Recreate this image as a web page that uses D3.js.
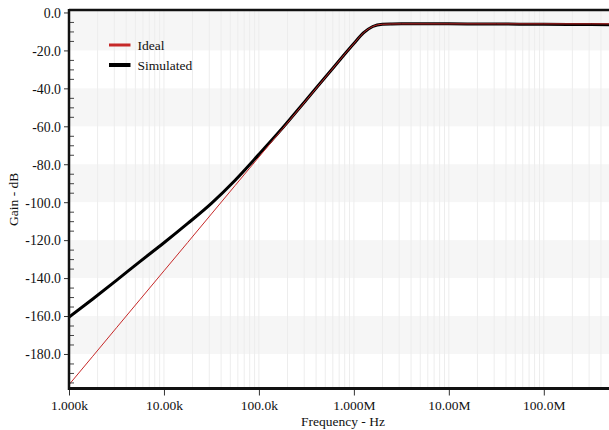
<!DOCTYPE html>
<html>
<head>
<meta charset="utf-8">
<script src="https://cdn.jsdelivr.net/npm/d3@7"></script>
<style>
  html, body { margin: 0; padding: 0; background: #ffffff; }
  svg { display: block; }
  text { font-family: "Liberation Serif", "Times New Roman", serif; fill: #111; }
</style>
</head>
<body>
<svg id="chart" width="609" height="430"></svg>
<script>
// ---- data ----
const freqHz = [1e3, 1.78e3, 3.16e3, 5.62e3, 1e4, 1.78e4, 3.16e4, 5.62e4, 1e5, 1.78e5, 3.16e5,
  5.62e5, 7.94e5, 1e6, 1.26e6, 1.58e6, 2e6, 2.51e6, 3.16e6, 1e7, 3.16e7, 1e8, 3.16e8, 1e9];
const idealDb = [-196.2, -181.2, -166.2, -151.2, -136.2, -121.2, -106.2, -91.2, -76.2, -61.2, -46.2,
  -31.2, -22.2, -16.4, -10.8, -7.4, -6.2, -6.05, -6.0, -6.0, -6.0, -6.0, -6.0, -6.0];
const simulatedDb = [-160.6, -151.0, -141.2, -131.2, -121.4, -111.2, -100.6, -88.4, -74.8, -60.8, -46.0,
  -31.1, -22.2, -16.4, -10.8, -7.4, -6.2, -6.05, -6.0, -6.0, -6.1, -6.25, -6.4, -6.55];
const yMajorTicks = [0, -20, -40, -60, -80, -100, -120, -140, -160, -180];
const xTickValues = [1e3, 1e4, 1e5, 1e6, 1e7, 1e8];
const xTickLabels = ["1.000k", "10.00k", "100.0k", "1.000M", "10.00M", "100.0M"];
const seriesNames = ["Ideal", "Simulated"];
const seriesColors = ["#c62828", "#000000"];

// ---- layout ----
const svg = d3.select("#chart");
const L = 69, R = 617, T = 10, B = 388.5;

const x = d3.scaleLog().domain([1e3, 5.9e8]).range([L, R]);
const y = d3.scaleLinear().domain([1.3, -198.2]).range([T, B]);

const g = svg.append("g");

// horizontal bands
const bands = yMajorTicks.filter((d, i) => i % 2 === 0);
g.selectAll("rect.band").data(bands).enter().append("rect")
  .attr("x", L).attr("width", R - L)
  .attr("y", d => d === 0 ? T : y(d))
  .attr("height", d => y(d - 20) - (d === 0 ? T : y(d)))
  .attr("fill", "#f6f6f6");

// vertical grid lines (1..9 per decade)
const gridVals = [];
for (let e = 3; e <= 8; e++) for (let m = 1; m <= 9; m++) {
  const v = m * Math.pow(10, e);
  if (v >= 1e3 && v <= 5.9e8) gridVals.push(v);
}
g.selectAll("line.vgrid").data(gridVals).enter().append("line")
  .attr("x1", d => x(d)).attr("x2", d => x(d))
  .attr("y1", T).attr("y2", B)
  .attr("stroke", "#ededed").attr("stroke-width", 1);

// curves
const line = d3.line().x(d => x(d[0])).y(d => y(d[1])).curve(d3.curveMonotoneX);
svg.append("clipPath").attr("id", "plotclip")
  .append("rect").attr("x", L).attr("y", T).attr("width", R - L).attr("height", B - T);

g.append("path").datum(freqHz.map((f, i) => [f, simulatedDb[i]]))
  .attr("d", line).attr("fill", "none")
  .attr("stroke", seriesColors[1]).attr("stroke-width", 3)
  .attr("clip-path", "url(#plotclip)");
g.append("path").datum(freqHz.map((f, i) => [f, idealDb[i]]))
  .attr("d", line).attr("fill", "none")
  .attr("stroke", seriesColors[0]).attr("stroke-width", 1)
  .attr("clip-path", "url(#plotclip)");

// y axis: major ticks outside, minor ticks inside
const yAxis = d3.axisLeft(y).tickValues(yMajorTicks).tickSize(5).tickPadding(3)
  .tickFormat(d => d3.format(".1f")(d).replace("−", "-"));
const ya = svg.append("g").attr("transform", `translate(${L},0)`).call(yAxis);
ya.select(".domain").remove();
ya.selectAll("text").style("font-size", "13.8px").attr("dy", "0.35em");
ya.selectAll("line").attr("stroke", "#333");

const minorY = d3.range(0, -200, -5).filter(v => v % 20 !== 0);
const yMinor = d3.axisRight(y).tickValues(minorY).tickSize(5).tickFormat("");
const ym = svg.append("g").attr("transform", `translate(${L},0)`).call(yMinor);
ym.select(".domain").remove();
ym.selectAll("line").attr("stroke", "#444");

// x axis
const xAxis = d3.axisBottom(x).tickValues(xTickValues).tickSize(7).tickPadding(5)
  .tickFormat((d, i) => xTickLabels[i]);
const xa = svg.append("g").attr("transform", `translate(0,${B})`).call(xAxis);
xa.select(".domain").remove();
xa.selectAll("text").style("font-size", "13.5px");
xa.selectAll("line").attr("stroke", "#333");

// frame lines
svg.append("line").attr("x1", L).attr("x2", R).attr("y1", T).attr("y2", T)
  .attr("stroke", "#111").attr("stroke-width", 2.5);
svg.append("line").attr("x1", L).attr("x2", L).attr("y1", T - 1).attr("y2", B + 1.5)
  .attr("stroke", "#111").attr("stroke-width", 2.5);
svg.append("line").attr("x1", L - 1).attr("x2", R).attr("y1", B).attr("y2", B)
  .attr("stroke", "#111").attr("stroke-width", 3);

// axis titles
svg.append("text").attr("x", (L + R) / 2).attr("y", 425.5).attr("text-anchor", "middle")
  .style("font-size", "13.5px").text("Frequency - Hz");
svg.append("text").attr("transform", `translate(18,${(T + B) / 2}) rotate(-90)`)
  .attr("text-anchor", "middle").style("font-size", "13.5px").text("Gain - dB");

// legend
const legend = svg.append("g");
const legY = [45, 65];
seriesNames.forEach((name, i) => {
  legend.append("line").attr("x1", 109).attr("x2", 130.5)
    .attr("y1", legY[i]).attr("y2", legY[i])
    .attr("stroke", seriesColors[i]).attr("stroke-width", i === 0 ? 3 : 4);
  legend.append("text").attr("x", 137.5).attr("y", legY[i] + 4.5)
    .style("font-size", "13.5px").text(name);
});
</script>
</body>
</html>
